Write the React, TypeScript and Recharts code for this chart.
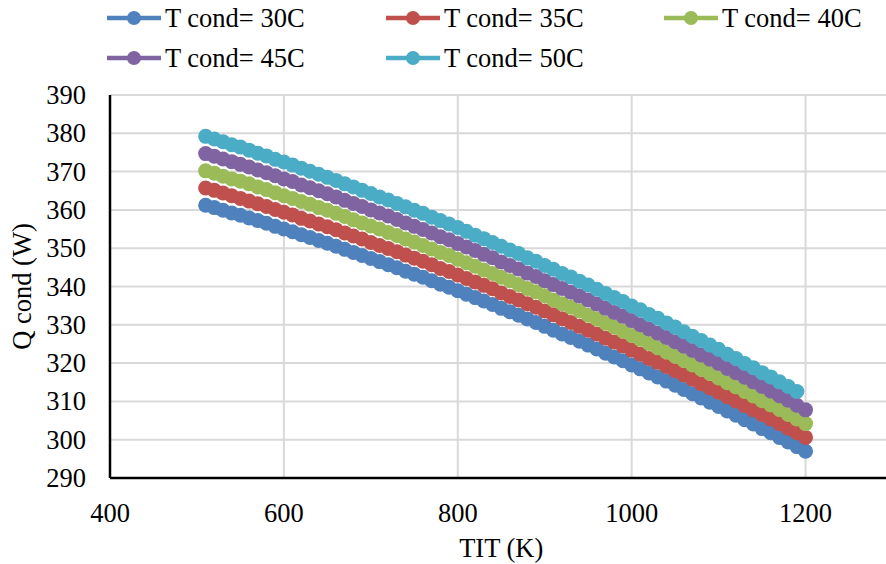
import React from 'react';
import { LineChart, Line, XAxis, YAxis, CartesianGrid, Legend } from 'recharts';

const FONT = "'Liberation Serif', 'Times New Roman', Times, serif";
const FS = 26.5;

const TIT = [
  510, 520, 530, 540, 550, 560, 570, 580, 590, 600,
  610, 620, 630, 640, 650, 660, 670, 680, 690, 700,
  710, 720, 730, 740, 750, 760, 770, 780, 790, 800,
  810, 820, 830, 840, 850, 860, 870, 880, 890, 900,
  910, 920, 930, 940, 950, 960, 970, 980, 990, 1000,
  1010, 1020, 1030, 1040, 1050, 1060, 1070, 1080, 1090, 1100,
  1110, 1120, 1130, 1140, 1150, 1160, 1170, 1180, 1190, 1200,
];

const Q30 = [
  361.2, 360.6, 359.9, 359.2, 358.6, 357.9, 357.2, 356.5, 355.7, 355.0,
  354.3, 353.5, 352.8, 352.0, 351.3, 350.5, 349.7, 348.9, 348.1, 347.3,
  346.5, 345.7, 344.9, 344.0, 343.2, 342.4, 341.5, 340.6, 339.8, 338.9,
  338.0, 337.1, 336.2, 335.3, 334.3, 333.4, 332.5, 331.5, 330.6, 329.6,
  328.6, 327.6, 326.7, 325.7, 324.7, 323.7, 322.6, 321.6, 320.6, 319.5,
  318.5, 317.4, 316.4, 315.3, 314.2, 313.1, 312.0, 310.9, 309.8, 308.7,
  307.5, 306.4, 305.2, 304.1, 302.9, 301.8, 300.6, 299.4, 298.2, 297.0,
];

const Q35 = [
  365.7, 365.1, 364.4, 363.7, 363.0, 362.3, 361.6, 360.9, 360.1, 359.4,
  358.7, 357.8, 357.1, 356.3, 355.6, 354.8, 354.0, 353.2, 352.4, 351.5,
  350.7, 349.9, 349.1, 348.2, 347.4, 346.6, 345.7, 344.7, 343.9, 343.0,
  342.1, 341.2, 340.3, 339.4, 338.3, 337.4, 336.5, 335.5, 334.6, 333.6,
  332.6, 331.6, 330.6, 329.6, 328.6, 327.6, 326.5, 325.5, 324.5, 323.4,
  322.3, 321.2, 320.2, 319.1, 318.0, 316.9, 315.8, 314.6, 313.5, 312.4,
  311.2, 310.1, 308.9, 307.8, 306.6, 305.4, 304.2, 303.0, 301.8, 300.6,
];

const Q40 = [
  370.2, 369.6, 368.8, 368.1, 367.5, 366.8, 366.0, 365.3, 364.5, 363.7,
  363.0, 362.2, 361.5, 360.6, 359.9, 359.1, 358.3, 357.4, 356.6, 355.8,
  355.0, 354.1, 353.3, 352.4, 351.6, 350.7, 349.8, 348.9, 348.1, 347.1,
  346.2, 345.3, 344.3, 343.4, 342.4, 341.5, 340.5, 339.5, 338.6, 337.6,
  336.5, 335.5, 334.6, 333.6, 332.5, 331.5, 330.4, 329.4, 328.3, 327.2,
  326.2, 325.1, 324.0, 322.9, 321.8, 320.7, 319.5, 318.4, 317.3, 316.1,
  314.9, 313.8, 312.6, 311.4, 310.2, 309.1, 307.9, 306.6, 305.4, 304.2,
];

const Q45 = [
  374.7, 374.0, 373.3, 372.6, 371.9, 371.2, 370.4, 369.7, 368.9, 368.1,
  367.4, 366.5, 365.8, 365.0, 364.2, 363.4, 362.5, 361.7, 360.9, 360.0,
  359.2, 358.4, 357.5, 356.6, 355.7, 354.9, 354.0, 353.0, 352.2, 351.2,
  350.3, 349.4, 348.4, 347.5, 346.4, 345.5, 344.6, 343.5, 342.6, 341.5,
  340.5, 339.5, 338.5, 337.5, 336.5, 335.4, 334.3, 333.2, 332.2, 331.1,
  330.0, 328.9, 327.8, 326.7, 325.6, 324.4, 323.3, 322.1, 321.0, 319.9,
  318.6, 317.5, 316.3, 315.1, 313.9, 312.7, 311.5, 310.3, 309.0, 307.8,
];

const Q50 = [
  379.2, 378.5, 377.8, 377.0, 376.4, 375.6, 374.8, 374.1, 373.2, 372.5,
  371.7, 370.9, 370.1, 369.3, 368.5, 367.7, 366.8, 366.0, 365.1, 364.3,
  363.4, 362.6, 361.7, 360.8, 359.9, 359.1, 358.1, 357.2, 356.3, 355.4,
  354.4, 353.4, 352.5, 351.5, 350.5, 349.5, 348.6, 347.5, 346.6, 345.5,
  344.5, 343.4, 342.5, 341.4, 340.4, 339.3, 338.2, 337.1, 336.1, 334.9,
  333.9, 332.7, 331.7, 330.5, 329.4, 328.2, 327.0, 325.9, 324.7, 323.6,
  322.3, 321.2, 319.9, 318.8, 317.5, 316.4, 315.1, 313.9, 312.6,
];

const X_TICKS = [400, 600, 800, 1000, 1200];
const Y_TICKS = [290, 300, 310, 320, 330, 340, 350, 360, 370, 380, 390];

const SERIES = [
  { key: 'c30', name: 'T cond= 30C', color: '#4F81BD', values: Q30 },
  { key: 'c35', name: 'T cond= 35C', color: '#C0504D', values: Q35 },
  { key: 'c40', name: 'T cond= 40C', color: '#9BBB59', values: Q40 },
  { key: 'c45', name: 'T cond= 45C', color: '#8064A2', values: Q45 },
  { key: 'c50', name: 'T cond= 50C', color: '#4BACC6', values: Q50 },
];

const data = TIT.map((t, i) => {
  const row: any = { tit: t };
  SERIES.forEach((s) => {
    row[s.key] = s.values[i];
  });
  return row;
});

const renderLegend = (props: any) => {
  const payload = props.payload || [];
  const xs = [107, 386, 664];
  const ys = [18, 58];
  return (
    <svg width={886} height={80} style={{ display: 'block' }}>
      {payload.map((p: any, i: number) => {
        const x0 = xs[i % 3];
        const y = ys[Math.floor(i / 3)];
        return (
          <g key={i}>
            <line x1={x0} x2={x0 + 54} y1={y} y2={y} stroke={p.color} strokeWidth={4.5} />
            <circle cx={x0 + 27} cy={y} r={7} fill={p.color} />
            <text
              x={x0 + 58}
              y={y}
              dominantBaseline="central"
              style={{ fontFamily: FONT, fontSize: FS }}
              fill="#000"
            >
              {p.value}
            </text>
          </g>
        );
      })}
    </svg>
  );
};

const XTick = (props: any) => {
  const { x, y, payload } = props;
  return (
    <text x={x} y={y} textAnchor="middle" dominantBaseline="central" style={{ fontFamily: FONT, fontSize: FS }} fill="#000">
      {payload.value}
    </text>
  );
};

const YTick = (props: any) => {
  const { x, y, payload } = props;
  return (
    <text x={x} y={y} textAnchor="end" dominantBaseline="central" style={{ fontFamily: FONT, fontSize: FS }} fill="#000">
      {payload.value}
    </text>
  );
};

const YTitle = (props: any) => {
  const vb = props.viewBox || { x: 0, y: 95, width: 110, height: 383 };
  const cx = vb.x + 22;
  const cy = vb.y + vb.height / 2;
  return (
    <text
      x={cx}
      y={cy}
      transform={`rotate(-90 ${cx} ${cy})`}
      textAnchor="middle"
      dominantBaseline="central"
      style={{ fontFamily: FONT, fontSize: FS }}
      fill="#000"
    >
      Q cond (W)
    </text>
  );
};

const XTitle = (props: any) => {
  const vb = props.viewBox || { x: 110, y: 478, width: 782.5, height: 86 };
  const cx = vb.x + vb.width / 2;
  const cy = vb.y + 70;
  return (
    <text x={cx} y={cy} textAnchor="middle" dominantBaseline="central" style={{ fontFamily: FONT, fontSize: FS }} fill="#000">
      TIT (K)
    </text>
  );
};

export default function App() {
  return (
    <div
      style={{
        position: 'absolute',
        left: 0,
        top: 0,
        width: 886,
        height: 564,
        overflow: 'hidden',
        fontFamily: FONT,
        background: '#fff',
      }}
    >
      <LineChart width={898} height={564} data={data} margin={{ top: 15, right: 5.5, bottom: 0, left: 0 }}>
        <CartesianGrid stroke="#d9d9d9" strokeWidth={2} />
        <XAxis
          dataKey="tit"
          type="number"
          domain={[400, 1300]}
          ticks={X_TICKS}
          allowDataOverflow
          height={86}
          tickLine={false}
          tickSize={0}
          tickMargin={35}
          axisLine={{ stroke: '#000', strokeWidth: 2.5 }}
          tick={<XTick />}
          label={<XTitle />}
        />
        <XAxis
          xAxisId="top"
          orientation="top"
          type="number"
          domain={[400, 1300]}
          height={0}
          tick={false}
          tickLine={false}
          axisLine={{ stroke: '#000', strokeWidth: 2.5 }}
        />
        <YAxis
          type="number"
          domain={[290, 390]}
          ticks={Y_TICKS}
          width={110}
          tickLine={false}
          tickSize={0}
          tickMargin={24}
          axisLine={{ stroke: '#000', strokeWidth: 2.5 }}
          tick={<YTick />}
          label={<YTitle />}
        />
        <Legend
          verticalAlign="top"
          content={renderLegend}
          wrapperStyle={{ top: 0, left: 0, width: 886, height: 80 }}
        />
        {SERIES.map((s) => (
          <Line
            key={s.key}
            dataKey={s.key}
            name={s.name}
            stroke={s.color}
            strokeWidth={4}
            dot={{ r: 7.5, fill: s.color, stroke: s.color, strokeWidth: 0 }}
            activeDot={false}
            isAnimationActive={false}
          />
        ))}
      </LineChart>
    </div>
  );
}
